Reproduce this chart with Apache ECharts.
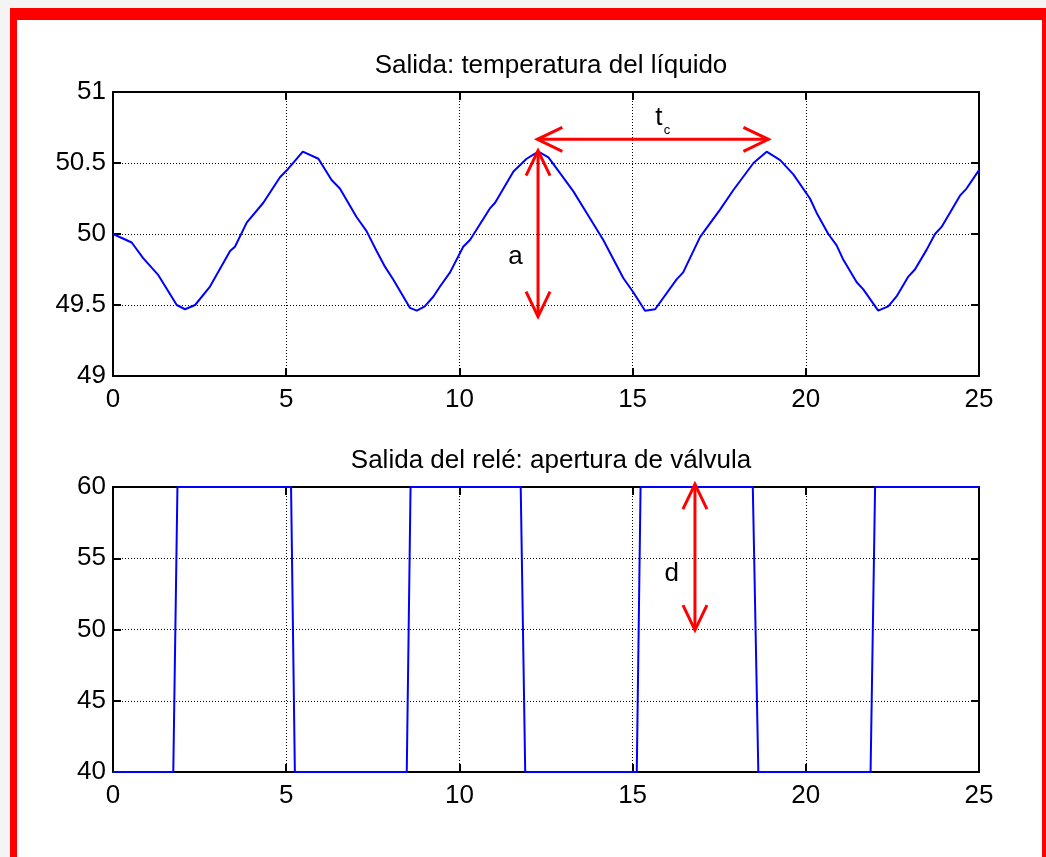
<!DOCTYPE html>
<html>
<head>
<meta charset="utf-8">
<script src="https://cdn.jsdelivr.net/npm/echarts@6/dist/echarts.min.js"></script>
<style>
  html, body { margin: 0; padding: 0; background: #f4f4f4; }
  #main { width: 1046px; height: 857px; }
</style>
</head>
<body>
<div id="main"></div>
<script>
// salida: temperatura del liquido (tiempo, valor)
var tempT = [0, 0.54, 0.87, 1.31, 1.84, 2.08, 2.37, 2.8, 3.38, 3.52, 3.86, 4.34, 4.82, 5.06, 5.48,
  5.93, 6.31, 6.55, 7.03, 7.32, 7.61, 7.85, 8.09, 8.57, 8.77, 9.0, 9.25, 9.44, 9.73, 10.11,
  10.31, 10.88, 11.03, 11.56, 11.94, 12.28, 12.57, 12.9, 13.29, 13.67, 14.15, 14.73, 15.02, 15.36, 15.65,
  16.27, 16.46, 16.95, 17.52, 17.91, 18.49, 18.87, 19.26, 19.64, 20.12, 20.31, 20.65, 20.89, 21.08, 21.47,
  21.66, 22.09, 22.38, 22.62, 22.96, 23.15, 23.49, 23.73, 23.92, 24.45, 24.64, 25];
var tempV = [50.0, 49.94, 49.83, 49.71, 49.5, 49.47, 49.5, 49.63, 49.88, 49.91, 50.08, 50.22, 50.40, 50.46, 50.58,
  50.53, 50.38, 50.32, 50.12, 50.02, 49.88, 49.77, 49.68, 49.48, 49.46, 49.49, 49.56, 49.63, 49.73, 49.91,
  49.96, 50.18, 50.22, 50.44, 50.53, 50.58, 50.54, 50.43, 50.30, 50.15, 49.96, 49.69, 49.59, 49.46, 49.47,
  49.68, 49.73, 49.98, 50.17, 50.31, 50.50, 50.58, 50.52, 50.42, 50.25, 50.15, 50.0, 49.92, 49.82, 49.66,
  49.61, 49.46, 49.49, 49.56, 49.70, 49.75, 49.89, 50.0, 50.05, 50.27, 50.32, 50.45];

// salida del rele: apertura de valvula
var relayT = [0, 1.74, 1.86, 5.14, 5.25, 8.48, 8.59, 11.77, 11.9, 15.12, 15.23, 18.47, 18.63, 21.87, 22.0, 25];
var relayV = [40, 40, 60, 60, 40, 40, 60, 60, 40, 40, 60, 60, 40, 40, 60, 60];

// ejes
var xTicks = [0, 5, 10, 15, 20, 25];
var tempTicks = [49, 49.5, 50, 50.5, 51];
var relayTicks = [40, 45, 50, 55, 60];

// flechas: [x1, y1, x2, y2]
var arrowsTop = [[12.27, 50.587, 12.27, 49.418], [12.25, 50.667, 18.92, 50.667]];
var arrowsBottom = [[16.8, 60.2, 16.8, 49.96]];
// etiquetas: [x, y, texto, subindice]
var labelsTop = [[11.62, 49.84, 'a', ''], [15.76, 50.82, 't', 'c']];
var labelsBottom = [[16.13, 53.9, 'd', '']];

var FONT = 'Liberation Sans, Arial, sans-serif';
var RED = '#ff0000';
var BLUE = '#0000ff';

function zip(a, b) {
  return a.map(function (v, i) { return [v, b[i]]; });
}

function renderArrow(params, api) {
  var p1 = api.coord([api.value(0), api.value(1)]);
  var p2 = api.coord([api.value(2), api.value(3)]);
  var dx = p2[0] - p1[0], dy = p2[1] - p1[1];
  var len = Math.sqrt(dx * dx + dy * dy);
  var ux = dx / len, uy = dy / len;
  var hl = 25, hw = 12;
  function head(p, s) {
    var bx = p[0] - s * ux * hl, by = p[1] - s * uy * hl;
    return [[bx - uy * hw, by + ux * hw], [p[0], p[1]], [bx + uy * hw, by - ux * hw]];
  }
  var st = { stroke: RED, lineWidth: 3, fill: null };
  return {
    type: 'group',
    children: [
      { type: 'line', shape: { x1: p1[0], y1: p1[1], x2: p2[0], y2: p2[1] }, style: st },
      { type: 'polyline', shape: { points: head(p1, -1) }, style: st },
      { type: 'polyline', shape: { points: head(p2, 1) }, style: st }
    ]
  };
}

function labelRenderer(list) {
  return function (params, api) {
    var item = list[params.dataIndex];
    var p = api.coord([item[0], item[1]]);
    var kids = [{
      type: 'text',
      x: p[0], y: p[1],
      style: { text: item[2], font: '26px ' + FONT, fill: '#000', align: 'center', verticalAlign: 'middle' }
    }];
    if (item[3]) {
      kids.push({
        type: 'text',
        x: p[0] + 8, y: p[1] + 13,
        style: { text: item[3], font: '13px ' + FONT, fill: '#000', align: 'center', verticalAlign: 'middle' }
      });
    }
    return { type: 'group', children: kids };
  };
}

var grids = [
  { left: 113, top: 92, width: 866, height: 284 },
  { left: 113, top: 487, width: 866, height: 285 }
];

function xAxisMain(gi) {
  return {
    type: 'value', gridIndex: gi, min: 0, max: 25, interval: 5, position: 'bottom',
    axisLine: { show: true, onZero: false, lineStyle: { color: '#000', width: 2 } },
    axisTick: { show: true, inside: true, length: 8, lineStyle: { color: '#000', width: 2 } },
    axisLabel: { color: '#000', fontSize: 26, fontFamily: FONT, margin: 11 },
    splitLine: { show: true, lineStyle: { color: '#000', width: 1, type: [1, 2] } }
  };
}
function xAxisMirror(gi) {
  return {
    type: 'value', gridIndex: gi, min: 0, max: 25, interval: 5, position: 'top',
    axisLine: { show: true, onZero: false, lineStyle: { color: '#000', width: 2 } },
    axisTick: { show: true, inside: true, length: 8, lineStyle: { color: '#000', width: 2 } },
    axisLabel: { show: false }, splitLine: { show: false }
  };
}
function yAxisMain(gi, ticks) {
  return {
    type: 'value', gridIndex: gi, min: ticks[0], max: ticks[ticks.length - 1],
    interval: ticks[1] - ticks[0], position: 'left',
    axisLine: { show: true, onZero: false, lineStyle: { color: '#000', width: 2 } },
    axisTick: { show: true, inside: true, length: 8, lineStyle: { color: '#000', width: 2 } },
    axisLabel: { color: '#000', fontSize: 26, fontFamily: FONT, margin: 7 },
    splitLine: { show: true, lineStyle: { color: '#000', width: 1, type: [1, 2] } }
  };
}
function yAxisMirror(gi, ticks) {
  return {
    type: 'value', gridIndex: gi, min: ticks[0], max: ticks[ticks.length - 1],
    interval: ticks[1] - ticks[0], position: 'right',
    axisLine: { show: true, onZero: false, lineStyle: { color: '#000', width: 2 } },
    axisTick: { show: true, inside: true, length: 8, lineStyle: { color: '#000', width: 2 } },
    axisLabel: { show: false }, splitLine: { show: false }
  };
}

var myChart = echarts.init(document.getElementById('main'), null, { renderer: 'canvas' });
myChart.setOption({
  animation: false,
  backgroundColor: 'transparent',
  title: [
    { text: 'Salida: temperatura del líquido', left: 546, top: 48, textAlign: 'center',
      textStyle: { color: '#000', fontSize: 26, fontWeight: 'normal', fontFamily: FONT } },
    { text: 'Salida del relé: apertura de válvula', left: 546, top: 443, textAlign: 'center',
      textStyle: { color: '#000', fontSize: 26, fontWeight: 'normal', fontFamily: FONT } }
  ],
  graphic: [
    // marco rojo de la figura
    { type: 'rect', z: -10, shape: { x: 10, y: 8, width: 1036, height: 849 }, style: { fill: '#fff' } },
    { type: 'rect', z: -9, shape: { x: 10, y: 8, width: 1036, height: 12 }, style: { fill: RED } },
    { type: 'rect', z: -9, shape: { x: 10, y: 8, width: 7, height: 849 }, style: { fill: RED } },
    { type: 'rect', z: -9, shape: { x: 1042, y: 8, width: 4, height: 849 }, style: { fill: RED } }
  ],
  grid: grids,
  xAxis: [xAxisMain(0), xAxisMirror(0), xAxisMain(1), xAxisMirror(1)],
  yAxis: [yAxisMain(0, tempTicks), yAxisMirror(0, tempTicks), yAxisMain(1, relayTicks), yAxisMirror(1, relayTicks)],
  series: [
    { type: 'line', xAxisIndex: 0, yAxisIndex: 0, data: zip(tempT, tempV), showSymbol: false,
      lineStyle: { color: BLUE, width: 2 }, clip: false, z: 3 },
    { type: 'line', xAxisIndex: 2, yAxisIndex: 2, data: zip(relayT, relayV), showSymbol: false,
      lineStyle: { color: BLUE, width: 2 }, clip: false, z: 3 },
    { type: 'custom', xAxisIndex: 0, yAxisIndex: 0, data: arrowsTop, renderItem: renderArrow, clip: false, z: 4 },
    { type: 'custom', xAxisIndex: 2, yAxisIndex: 2, data: arrowsBottom, renderItem: renderArrow, clip: false, z: 4 },
    { type: 'custom', xAxisIndex: 0, yAxisIndex: 0, data: labelsTop.map(function (l) { return [l[0], l[1]]; }),
      renderItem: labelRenderer(labelsTop), clip: false, z: 4 },
    { type: 'custom', xAxisIndex: 2, yAxisIndex: 2, data: labelsBottom.map(function (l) { return [l[0], l[1]]; }),
      renderItem: labelRenderer(labelsBottom), clip: false, z: 4 }
  ]
});
</script>
</body>
</html>
